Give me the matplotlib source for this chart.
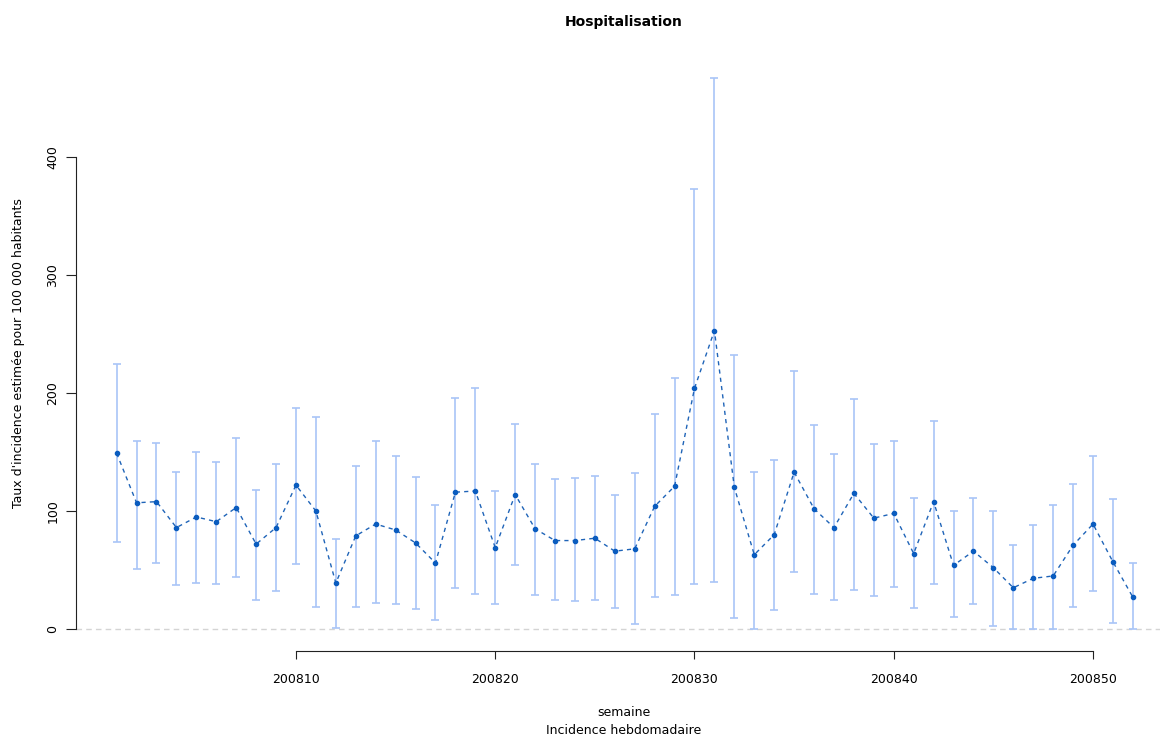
import matplotlib
matplotlib.use("Agg")
import matplotlib.pyplot as plt
import numpy as np

plt.rcParams['font.family'] = ['DejaVu Sans']

weeks = list(range(200801, 200853))
incidence = [149, 107, 108, 86, 95, 91, 103, 72, 86, 122,
             100, 39, 79, 89, 84, 73, 56, 116, 117, 69,
             114, 85, 75, 75, 77, 66, 68, 104, 121, 204,
             253, 120, 63, 80, 133, 102, 86, 115, 94, 98,
             64, 108, 54, 66, 52, 35, 43, 45, 71, 89,
             57, 27]
upper = [225, 159, 158, 133, 150, 142, 162, 118, 140, 187,
         180, 76, 138, 159, 147, 129, 105, 196, 204, 117,
         174, 140, 127, 128, 130, 114, 132, 182, 213, 373,
         467, 232, 133, 143, 219, 173, 148, 195, 157, 159,
         111, 176, 100, 111, 100, 71, 88, 105, 123, 147,
         110, 56]
lower = [74, 51, 56, 37, 39, 38, 44, 25, 32, 55,
         19, 1, 19, 22, 21, 17, 8, 35, 30, 21,
         54, 29, 25, 24, 25, 18, 4, 27, 29, 38,
         40, 9, 0, 16, 48, 30, 25, 33, 28, 36,
         18, 38, 10, 21, 3, 0, 0, 0, 19, 32,
         5, 0]
xticks = [200810, 200820, 200830, 200840, 200850]
yticks = [0, 100, 200, 300, 400]

W, H = 1160, 738
fig = plt.figure(figsize=(W / 100, H / 100), dpi=100)
ax = fig.add_axes([76 / W, (H - 651) / H, (1173.5 - 76) / W, (651 - 58) / H])

x = np.array(weeks)
y = np.array(incidence)
up = np.array(upper)
lo = np.array(lower)

ax.axhline(0, color='#d4d4d4', lw=1, ls=(0, (4, 3)), zorder=1)
ax.errorbar(x, y, yerr=[y - lo, up - y], fmt='none', ecolor='#a9c5f7',
            elinewidth=1.2, capsize=3.2, capthick=1.2, zorder=2)
ax.plot(x, y, color='#1f64b8', lw=1, ls=(0, (3, 3)), zorder=3)
ax.plot(x, y, 'o', color='#0a5cbf', ms=3, zorder=4)

ax.set_xlim(200798.96, 200854.04)
ax.set_ylim(-18.6, 484.0)
for s in ['top', 'right']:
    ax.spines[s].set_visible(False)
ax.spines['left'].set_bounds(0, 400)
ax.spines['bottom'].set_bounds(200810, 200850)
ax.spines['left'].set_color('#222222')
ax.spines['bottom'].set_color('#222222')
ax.set_xticks(xticks)
ax.set_xticklabels([str(t) for t in xticks])
ax.set_yticks(yticks)
ax.set_yticklabels([str(t) for t in yticks], rotation=90, va='center')
ax.tick_params(axis='x', length=6, direction='out', pad=10, labelsize=9, color='#222222')
ax.tick_params(axis='y', length=7, direction='out', pad=5, labelsize=9, color='#222222')

fig.text(624 / W, 1 - 22 / H, 'Hospitalisation', ha='center', va='center',
         fontsize=10, fontweight='bold')
fig.text(624 / W, 1 - 713 / H, 'semaine', ha='center', va='center', fontsize=9)
fig.text(624 / W, 1 - 730 / H, 'Incidence hebdomadaire', ha='center', va='center', fontsize=9)
fig.text(19 / W, 1 - 353 / H, "Taux d'incidence estimée pour 100 000 habitants",
         ha='center', va='center', rotation=90, fontsize=9)

fig.savefig('out.png', dpi=100)
